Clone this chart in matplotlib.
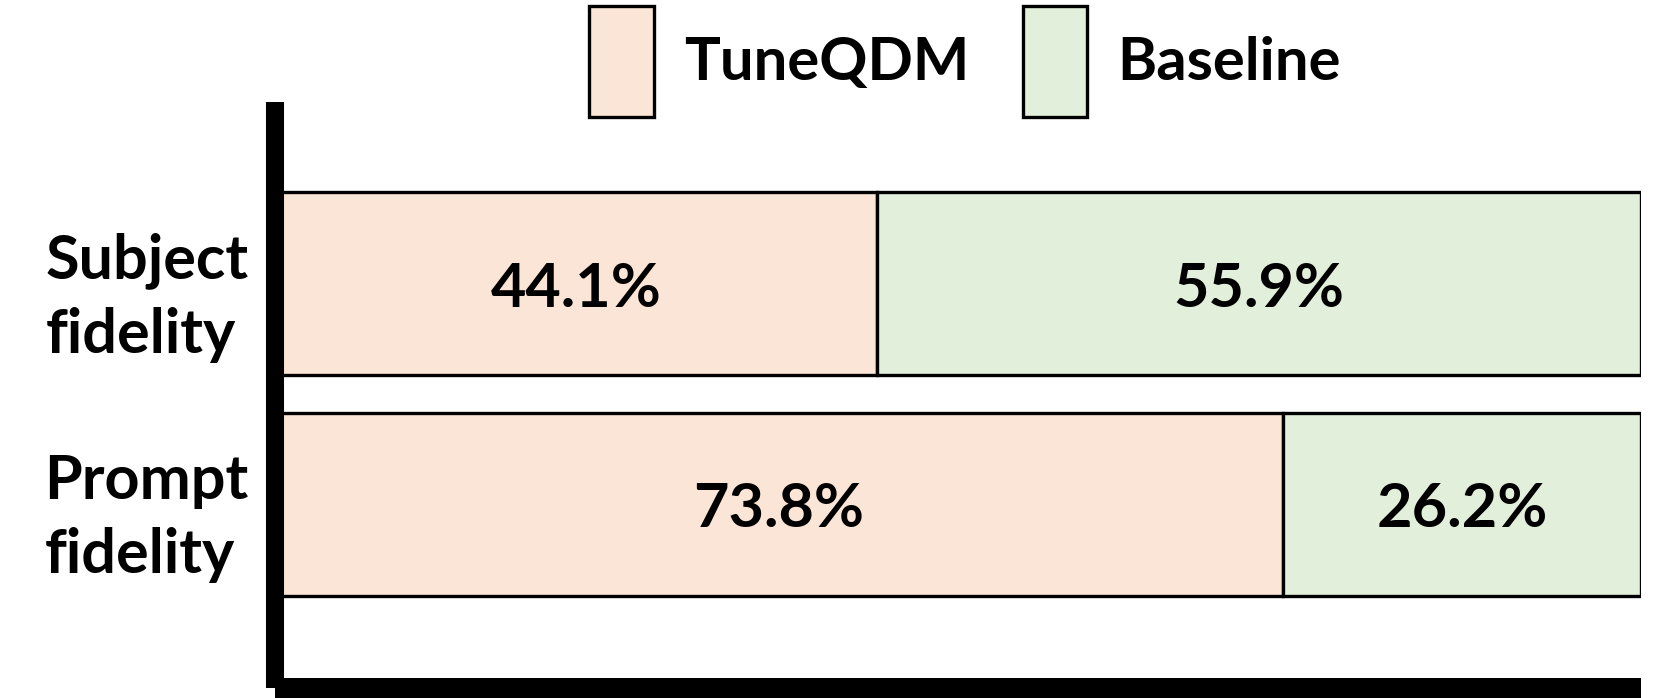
import matplotlib.pyplot as plt
import matplotlib.transforms as mtransforms
import numpy as np

categories = ["Subject\nfidelity", "Prompt\nfidelity"]
tuneqdm = [44.1, 73.8]
baseline = [55.9, 26.2]
series_names = ["TuneQDM", "Baseline"]
colors = ["#FBE5D6", "#E2EFDA"]

plt.rcParams["font.family"] = ["Lato", "DejaVu Sans"]
plt.rcParams["font.weight"] = "bold"

fig = plt.figure(figsize=(16.61, 6.98), dpi=100)
ax = fig.add_axes([0.1656, 0.0143, 0.8224, 0.8396])

y = np.arange(len(categories))[::-1]
height = 0.83
left_vals = np.array(tuneqdm)
right_vals = np.array(baseline)

ax.barh(y, left_vals, height=height, color=colors[0], edgecolor="black",
        linewidth=2.4, label=series_names[0])
ax.barh(y, right_vals, left=left_vals, height=height, color=colors[1],
        edgecolor="black", linewidth=2.4, label=series_names[1])

for yi, a, b in zip(y, left_vals, right_vals):
    ax.text(a / 2, yi, f"{a:.1f}%", ha="center", va="center_baseline",
            fontsize=44, fontweight="bold")
    ax.text(a + b / 2, yi, f"{b:.1f}%", ha="center", va="center_baseline",
            fontsize=44, fontweight="bold")

ax.set_xlim(0, 100)
ax.set_ylim(-0.834, 1.823)
ax.set_xticks([])
ax.set_yticks(y)
ax.set_yticklabels(categories, fontsize=44, fontweight="bold", linespacing=1.4)
# nudge the two-line labels up a little
shift = mtransforms.ScaledTranslation(0, 6 / 72, fig.dpi_scale_trans)
for lab in ax.get_yticklabels():
    lab.set_multialignment("left")
    lab.set_transform(lab.get_transform() + shift)
ax.tick_params(axis="y", length=0, pad=19)

ax.spines["top"].set_visible(False)
ax.spines["right"].set_visible(False)
ax.spines["left"].set_linewidth(13)
ax.spines["bottom"].set_linewidth(14.4)
for side in ("left", "bottom"):
    ax.spines[side].set_capstyle("butt")

fig.legend(loc="center", bbox_to_anchor=(0.581, 0.912), ncol=2, frameon=False,
           fontsize=43, handlelength=1.08, handleheight=2.5, handletextpad=0.5,
           columnspacing=0.9, borderaxespad=0, borderpad=0)

fig.savefig("out.png", dpi=100)
